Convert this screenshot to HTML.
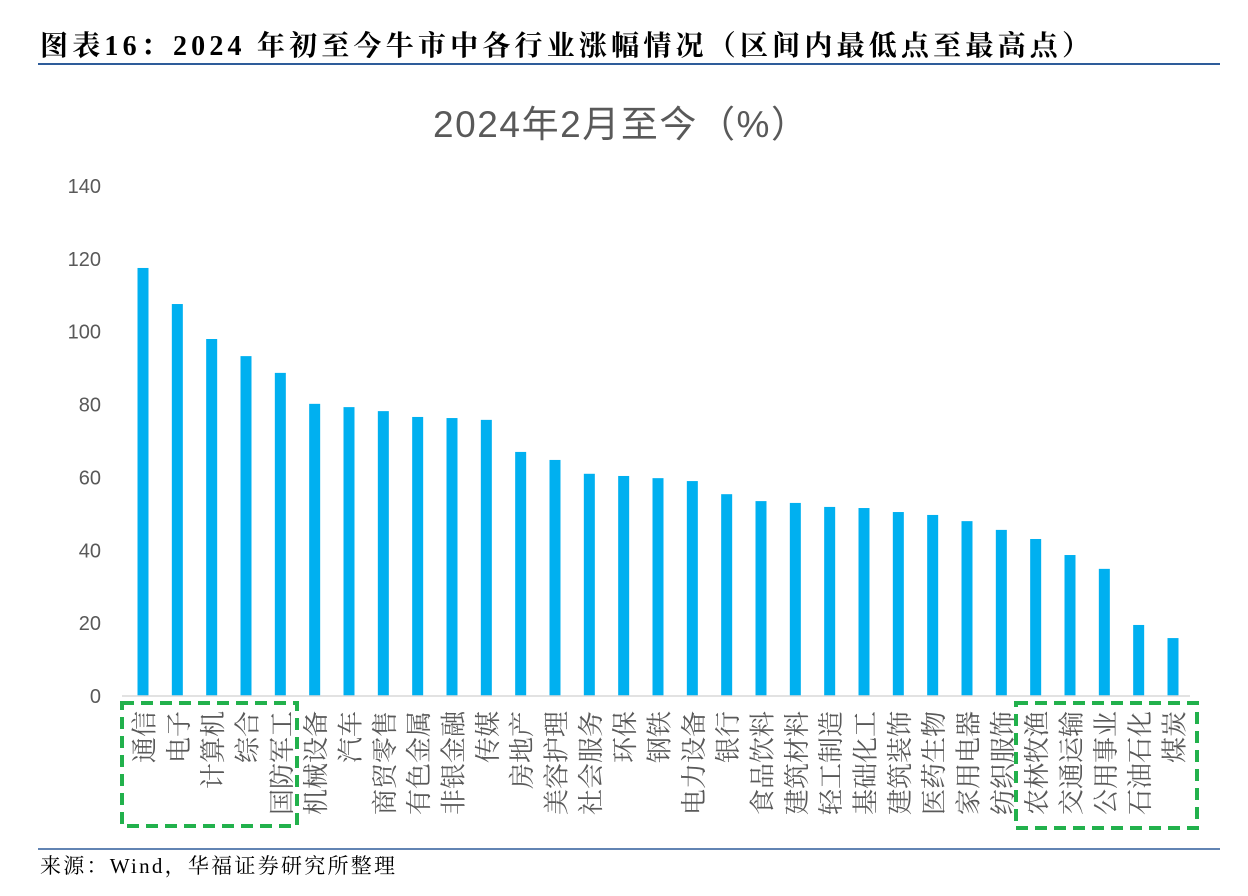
<!DOCTYPE html>
<html><head><meta charset="utf-8">
<style>
body{margin:0;width:1248px;height:891px;background:#fff;overflow:hidden;font-family:"Liberation Serif","Noto Serif CJK SC",serif;}
</style></head><body>
<svg id="chart" width="1248" height="891" xmlns="http://www.w3.org/2000/svg">
<text x="40" y="55" font-size="28" font-weight="bold" fill="#000" textLength="1050" lengthAdjust="spacing" font-family="Liberation Serif, Noto Serif CJK SC, serif">图表16：2024 年初至今牛市中各行业涨幅情况（区间内最低点至最高点）</text>
<line x1="38" y1="64" x2="1220" y2="64" stroke="#2e5c9a" stroke-width="2"/>
<text x="433" y="137" font-size="37" fill="#595959" textLength="375" lengthAdjust="spacing" font-family="Liberation Sans, Noto Sans CJK SC, sans-serif">2024年2月至今（%）</text>
<g id="yaxis"></g><g id="bars"></g><g id="xlabels"></g>
<line x1="122" y1="696" x2="1190" y2="696" stroke="#d9d9d9" stroke-width="1.5"/>
<rect x="122" y="703" width="175" height="123" fill="none" stroke="#22b14c" stroke-width="4" stroke-dasharray="12,7"/>
<rect x="1016" y="703" width="181" height="125" fill="none" stroke="#22b14c" stroke-width="4" stroke-dasharray="12,7"/>
<line x1="38" y1="849" x2="1220" y2="849" stroke="#2e5c9a" stroke-width="1.5"/>
<text x="40" y="873" font-size="21" fill="#000" textLength="355" lengthAdjust="spacing">来源：Wind，华福证券研究所整理</text>
</svg>
<script>
const categories=["通信","电子","计算机","综合","国防军工","机械设备","汽车","商贸零售","有色金属","非银金融","传媒","房地产","美容护理","社会服务","环保","钢铁","电力设备","银行","食品饮料","建筑材料","轻工制造","基础化工","建筑装饰","医药生物","家用电器","纺织服饰","农林牧渔","交通运输","公用事业","石油石化","煤炭"];
const values=[117.5,107.6,98,93.3,88.7,80.2,79.3,78.2,76.6,76.3,75.8,67,64.8,61,60.4,59.8,59,55.4,53.5,53,51.9,51.6,50.5,49.7,48,45.6,43.1,38.7,34.9,19.5,15.9];
const ticks=[0,20,40,60,80,100,120,140];
const NS="http://www.w3.org/2000/svg";
const y=v=>696-v*(510/140);
const x=i=>143+i*(1030/30);
const ya=document.getElementById('yaxis'),bg=document.getElementById('bars'),xl=document.getElementById('xlabels');
ticks.forEach(t=>{const e=document.createElementNS(NS,'text');


e.setAttribute('x',101);e.setAttribute('y',y(t)+7);e.setAttribute('text-anchor','end');e.setAttribute('font-size','20');e.setAttribute('fill','#595959');e.setAttribute('font-family','Liberation Sans, sans-serif');e.textContent=t;ya.appendChild(e);});
values.forEach((v,i)=>{const r=document.createElementNS(NS,'rect');


r.setAttribute('x',x(i)-5.5);r.setAttribute('y',y(v));r.setAttribute('width',11);r.setAttribute('height',696-y(v));r.setAttribute('fill','#00b0f0');bg.appendChild(r);});
categories.forEach((c,i)=>{const e=document.createElementNS(NS,'text');


const cx=x(i),cy=711;
e.setAttribute('x',cx);e.setAttribute('y',cy);e.setAttribute('text-anchor','end');e.setAttribute('dominant-baseline','central');
e.setAttribute('transform','rotate(-90 '+cx+' '+cy+')');
e.setAttribute('font-size','26');e.setAttribute('fill','#595959');e.setAttribute('font-family','Noto Serif CJK SC, serif');e.textContent=c;xl.appendChild(e);});
</script>
</body></html>
